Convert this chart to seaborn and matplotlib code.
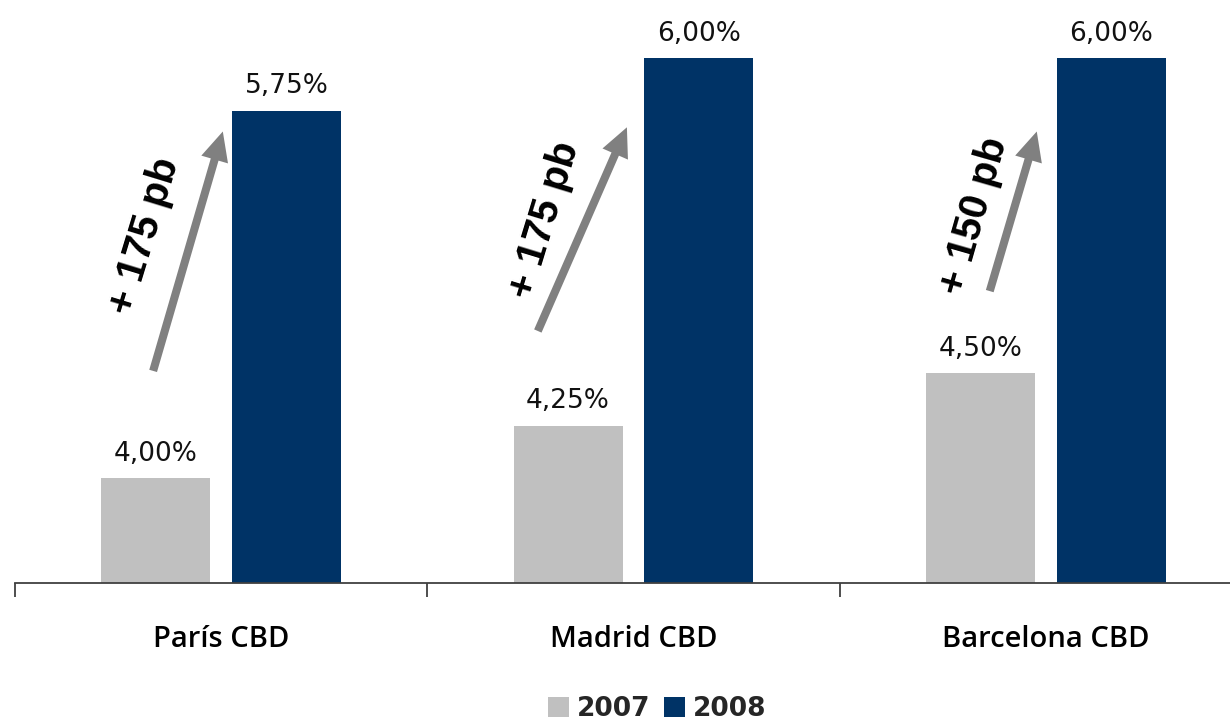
import matplotlib
matplotlib.use("Agg")
import matplotlib.pyplot as plt
import seaborn as sns
import pandas as pd

# ---- data ----
cities = ["París CBD", "Madrid CBD", "Barcelona CBD"]
years = ["2007", "2008"]
yield_2007 = [4.00, 4.25, 4.50]
yield_2008 = [5.75, 6.00, 6.00]
change_labels = ["+ 175 pb", "+ 175 pb", "+ 150 pb"]
# arrow annotations (data units: category index, yield)
arrow_tail_x = [-0.165, 0.768, 1.864]
arrow_tail_y = [4.51, 4.70, 4.89]
arrow_head_x = [0.004, 0.984, 1.978]
arrow_head_y = [5.65, 5.67, 5.65]
text_x = [-0.185, 0.785, 1.827]
text_y = [5.15, 5.23, 5.25]
text_rot = [73, 73, 74]

colors = ["#C0C0C0", "#003366"]

df = pd.DataFrame({
    "city": cities * 2,
    "year": [years[0]] * 3 + [years[1]] * 3,
    "value": yield_2007 + yield_2008,
})

sns.set_style("white")
plt.rcParams["font.family"] = ["DejaVu Sans"]

W, H = 1230, 723
fig = plt.figure(figsize=(W / 100, H / 100), dpi=100)
ax = fig.add_axes([15 / W, 140 / H, (1252 - 15) / W, 583 / H])

sns.barplot(data=df, x="city", y="value", hue="year", palette=colors,
            width=0.635, gap=0.168, ax=ax, saturation=1, legend=True,
            linewidth=0, edgecolor="none")

ax.set_ylim(3.5, 3.5 + 583 / 210)
ax.set_xlim(-0.5, 2.5)

for cont in ax.containers:
    ax.bar_label(cont, fmt=lambda v: f"{v:.2f}".replace(".", ",") + "%",
                 padding=8, fontsize=19, color="#111111",
                 fontfamily="DejaVu Sans")

for i in range(len(cities)):
    ax.annotate("", xy=(arrow_head_x[i], arrow_head_y[i]),
                xytext=(arrow_tail_x[i], arrow_tail_y[i]),
                arrowprops=dict(arrowstyle="simple,head_length=2.1,head_width=2.0,tail_width=0.58",
                                mutation_scale=10, color="#808080",
                                shrinkA=0, shrinkB=0, lw=0))
    ax.text(text_x[i], text_y[i], change_labels[i], rotation=text_rot[i],
            rotation_mode="anchor", ha="center", va="center",
            fontsize=29, fontweight="bold", family=["Liberation Sans", "DejaVu Sans"],
            fontstyle="normal", color="black")

# axes styling
for s in ["left", "top", "right"]:
    ax.spines[s].set_visible(False)
ax.spines["bottom"].set_color("#404040")
ax.spines["bottom"].set_linewidth(1.3)
ax.set_yticks([])
ax.set_xlabel("")
ax.set_ylabel("")
ax.set_xticks(range(len(cities)))
ax.set_xticklabels(cities, fontsize=21, fontweight=600,
                   family=["Open Sans", "DejaVu Sans"], color="black")
ax.set_xticks([-0.5, 0.5, 1.5, 2.5], minor=True)
ax.tick_params(axis="x", which="both", bottom=True)
ax.tick_params(axis="x", which="major", length=0, pad=30)
ax.tick_params(axis="x", which="minor", length=10, width=1.3,
               color="#404040", direction="out")

# legend
handles, labels = ax.get_legend_handles_labels()
ax.get_legend().remove()
leg = fig.legend(handles, labels, loc="center", bbox_to_anchor=(657 / W, 1 - 709 / H),
                 ncol=2, frameon=False, handlelength=0.8, handleheight=0.8,
                 handletextpad=0.3, columnspacing=0.5,
                 prop={"family": "DejaVu Sans", "weight": "bold", "size": 19})

fig.savefig("out.png", dpi=100)
